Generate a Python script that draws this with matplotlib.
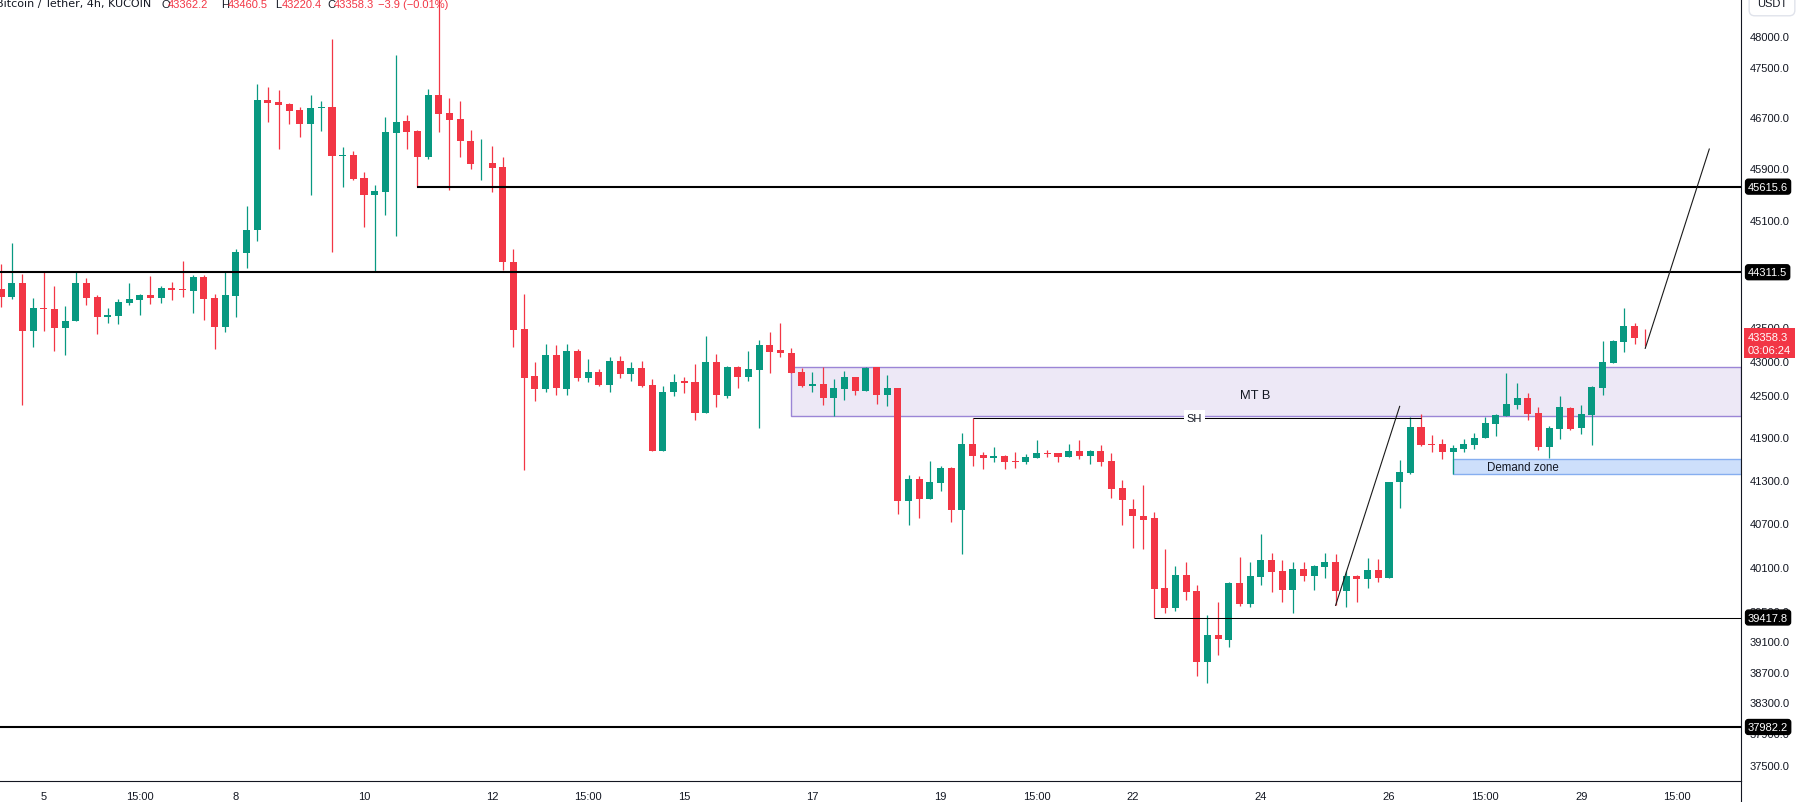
import matplotlib
matplotlib.use("Agg")
import matplotlib.pyplot as plt
from matplotlib.patches import Rectangle
from matplotlib.lines import Line2D
from matplotlib.ticker import FixedLocator, FixedFormatter, NullLocator
import numpy as np

# 4h candles, BTC/USDT (KuCoin)
opens = [44057, 43941, 44146, 43442, 43773, 43758, 43487, 43580, 44146, 43936,
         43640, 43655, 43853, 43896, 43966, 43926, 44071, 44056, 44031, 44236,
         43921, 43501, 43956, 44608, 44951, 46975, 46943, 46911, 46815, 46600,
         46852, 46863, 46095, 46105, 45749, 45490, 45536, 46457, 46641, 46489,
         46079, 47055, 46767, 46673, 46331, 45978, 45988, 45920, 44458, 43466,
         42780, 42597, 43085, 42597, 43144, 42756, 42839, 42655, 42998, 42815,
         42897, 42655, 41711, 42554, 42708, 42694, 42250, 42984, 42496, 42911,
         42770, 42872, 43232, 43159, 43115, 42839, 42640, 42664, 42467, 42597,
         42766, 42568, 42908, 42510, 42606, 41000, 41314, 41038, 41262, 41467,
         40874, 41807, 41650, 41612, 41636, 41565, 41555, 41612, 41679, 41679,
         41626, 41707, 41640, 41707, 41565, 41183, 40896, 40804, 40770, 39815,
         39551, 39992, 39774, 38833, 39181, 39124, 39887, 39605, 39969, 40195,
         40046, 39790, 40073, 39982, 40105, 40168, 39777, 39978, 39941, 40059,
         39955, 41267, 41402, 42047, 41807, 41807, 41697, 41740, 41796, 41896,
         42092, 42207, 42366, 42462, 42245, 41768, 42022, 42318, 42036, 42221,
         42611, 42974, 43281, 43511, 43362.2]
highs = [44430, 44750, 44281, 43923, 44311, 44106, 43803, 44311, 44221, 43966,
         43773, 43908, 44146, 43981, 44251, 44101, 44161, 44476, 44266, 44266,
         43981, 44311, 44662, 45316, 47231, 47183, 47135, 46927, 46863, 47055,
         46959, 47956, 46236, 46168, 45842, 45645, 46705, 47691, 46737, 46504,
         47151, 48970, 47007, 46959, 46504, 46362, 46252, 46079, 44662, 43981,
         42984, 43245, 43235, 43245, 43178, 43027, 42882, 43056, 43071, 42984,
         42998, 42737, 42636, 42810, 42766, 42954, 43364, 43100, 42926, 42926,
         43144, 43305, 43421, 43554, 43188, 42897, 42839, 42911, 42737, 42853,
         42766, 42908, 42908, 42795, 42606, 41370, 41356, 41565, 41495, 41481,
         41963, 42179, 41694, 41764, 41650, 41694, 41665, 41863, 41721, 41679,
         41807, 41863, 41721, 41792, 41679, 41300, 41034, 41230, 40855, 40343,
         40114, 40168, 39855, 39457, 39630, 39896, 40240, 40168, 40550, 40290,
         40195, 40168, 40168, 40127, 40290, 40277, 40046, 39991, 40222, 40209,
         41276, 41579, 42188, 42231, 41934, 41877, 41792, 41877, 41963, 42188,
         42231, 42824, 42678, 42534, 42337, 42060, 42491, 42333, 42362, 42631,
         43290, 43305, 43773, 43554, 43460.5]
lows = [43790, 43911, 42366, 43206, 43442, 43148, 43090, 43580, 43821, 43398,
        43550, 43535, 43821, 43670, 43836, 43851, 43896, 43941, 43700, 43596,
        43178, 43428, 43640, 44374, 44786, 46630, 46204, 46600, 46395, 45490,
        46490, 44622, 45614, 45722, 45001, 44316, 45184, 44866, 46204, 45615.6,
        46048, 46473, 45568, 46079, 45894, 45722, 45536, 44346, 43206, 41432,
        42424, 42554, 42510, 42510, 42712, 42698, 42640, 42554, 42756, 42712,
        42626, 41711, 41711, 42496, 42539, 42150, 42250, 42337, 42467, 42612,
        42712, 42026, 42828, 43061, 42828, 42626, 42554, 42366, 42207, 42438,
        42510, 42568, 42381, 42352, 40832, 40678, 40764, 41038, 41150, 40720,
        40270, 41498, 41456, 41555, 41456, 41470, 41527, 41612, 41626, 41555,
        41626, 41593, 41527, 41494, 41052, 40678, 40361, 40347, 39417.8, 39484,
        39511, 39659, 38648, 38558, 38923, 39031, 39567, 39552, 39860, 39765,
        39630, 39484, 39914, 39790, 39955, 39580, 39552, 39630, 39819, 39900,
        39955, 40913, 41388, 41782, 41697, 41597, 41384, 41697, 41740, 41896,
        41924, 42207, 42308, 42150, 41726, 41612, 41877, 42007, 41953, 41796,
        42510, 42974, 43134, 43250, 43220.4]
closes = [43940, 44146, 43442, 43773, 43758, 43487, 43590, 44146, 43926, 43640,
          43670, 43863, 43908, 43966, 43926, 44071, 44046, 44046, 44236, 43911,
          43501, 43966, 44618, 44951, 46975, 46932, 46900, 46804, 46600, 46847,
          46863, 46095, 46105, 45738, 45490, 45547, 46468, 46625, 46473, 46079,
          47055, 46758, 46662, 46322, 45972, 45988, 45910, 44462, 43456, 42756,
          42597, 43085, 42612, 43144, 42756, 42839, 42655, 42998, 42815, 42897,
          42640, 41711, 42554, 42694, 42683, 42250, 42984, 42510, 42911, 42770,
          42882, 43232, 43134, 43120, 42828, 42640, 42664, 42467, 42606, 42766,
          42568, 42897, 42510, 42606, 41000, 41314, 41038, 41272, 41467, 40874,
          41807, 41640, 41612, 41636, 41555, 41555, 41622, 41679, 41669, 41626,
          41707, 41640, 41707, 41555, 41178, 41024, 40804, 40748, 39805, 39551,
          39992, 39765, 38833, 39181, 39132, 39882, 39594, 39978, 40195, 40036,
          39790, 40073, 39982, 40114, 40168, 39777, 39978, 39941, 40059, 39955,
          41272, 41411, 42047, 41796, 41796, 41697, 41750, 41807, 41891, 42102,
          42217, 42376, 42462, 42236, 41768, 42032, 42333, 42022, 42231, 42621,
          42984, 43290, 43511, 43339, 43358.3]

# time axis labels (candle index -> label)
date_ticks = [4, 13, 22, 34, 46, 55, 64, 76, 88, 97, 106, 118, 130, 139, 148, 157]
date_labels = ["5", "15:00", "8", "10", "12", "15:00", "15", "17", "19", "15:00",
               "22", "24", "26", "15:00", "29", "15:00"]

price_ticks = [48000, 47500, 46700, 45900, 45100, 43500, 43000, 42500, 41900,
               41300, 40700, 40100, 39500, 39100, 38700, 38300, 37900, 37500]

# horizontal levels: price, first candle, line width
level_prices = [45615.6, 44311.5, 39417.8, 37982.2]
level_starts = [39, -1, 108, -1]
level_widths = [1.5, 1.5, 0.75, 1.5]

# zones: (first candle, low, high)
mtb_zone = (74, 42198, 42908)
demand_zone = (136, 41380, 41597)
sh_level = (91, 133, 42179)
trend1_x, trend1_y = [125, 131], [39580, 42342]
trend2_x, trend2_y = [154, 160], [43183, 46201]

last_price = 43358.3
header_ohlc = ["43362.2", "43460.5", "43220.4", "43358.3"]

UP, DOWN, INK = "#089981", "#F23645", "#131722"
FONT = "Liberation Sans"

W, H = 1802, 803
fig = plt.figure(figsize=(W / 100, H / 100), dpi=100)
ax = fig.add_axes([0, 21 / H, 1741 / W, 782 / H])
ax.set_yscale("log")
x_left, x_right = -0.094, 162.97
ax.set_xlim(x_left, x_right)
ax.set_ylim(37293, 48611)

o = np.array(opens); h = np.array(highs); l = np.array(lows); c = np.array(closes)
idx = np.arange(len(o))
cols = [UP if cc >= oo else DOWN for oo, cc in zip(o, c)]
ax.vlines(idx, l, h, colors=cols, linewidth=0.9, zorder=3)
ax.bar(idx, np.maximum(np.abs(c - o), 12), bottom=np.minimum(o, c), width=0.66,
       color=cols, linewidth=0, zorder=4)

# zones
x0, lo, hi = mtb_zone
ax.add_patch(Rectangle((x0, lo), x_right - x0, hi - lo, facecolor=(149/255, 117/255, 205/255, 0.16),
                       edgecolor="#9b85d6", linewidth=1.0, zorder=2))
ax.text(117.5, 42505, "MT B", ha="center", va="center", fontsize=9.3, color=INK, family=FONT, zorder=6)
x0, lo, hi = demand_zone
ax.add_patch(Rectangle((x0, lo), x_right - x0, hi - lo, facecolor="#cddffb",
                       edgecolor="#86aef0", linewidth=1.0, zorder=2))
ax.text(142.5, 41480, "Demand zone", ha="center", va="center", fontsize=8.3, color=INK, family=FONT, zorder=6)

# levels
for p, s, lw in zip(level_prices, level_starts, level_widths):
    ax.hlines(p, max(s, x_left), x_right, color="black", linewidth=lw, zorder=5)
    ax.text(1748 / 1741, p, f"{p:.1f}", transform=ax.get_yaxis_transform(), ha="left", va="center",
            color="white", fontsize=8, family=FONT, zorder=8, clip_on=False,
            bbox=dict(boxstyle="round,pad=0.22,rounding_size=0.25", fc="black", ec="black"))

ax.hlines(sh_level[2], sh_level[0], sh_level[1], color="black", linewidth=0.75, zorder=5)
ax.text(111.8, sh_level[2], "SH", ha="center", va="center", fontsize=8, color=INK, family=FONT, zorder=6,
        bbox=dict(boxstyle="square,pad=0.25", fc="white", ec="none"))

ax.plot(trend1_x, trend1_y, color="#1a1a1a", linewidth=0.8, zorder=6)
ax.plot(trend2_x, trend2_y, color="#1a1a1a", linewidth=0.8, zorder=6)

# price scale
ax.yaxis.tick_right()
ax.yaxis.set_major_locator(FixedLocator(price_ticks))
ax.yaxis.set_major_formatter(FixedFormatter([f"{p:.1f}" for p in price_ticks]))
ax.yaxis.set_minor_locator(NullLocator())
ax.tick_params(axis="y", length=0, pad=6, labelsize=8, labelcolor=INK)
ax.set_xticks(date_ticks)
ax.set_xticklabels(date_labels)
ax.tick_params(axis="x", length=0, pad=7, labelsize=8, labelcolor=INK)
for t in ax.get_xticklabels() + ax.get_yticklabels():
    t.set_family(FONT)

for side in ["top", "left"]:
    ax.spines[side].set_visible(False)
for side in ["right", "bottom"]:
    ax.spines[side].set_color(INK)
    ax.spines[side].set_linewidth(0.8)
fig.add_artist(Line2D([1741 / W] * 2, [0, 21 / H], color=INK, linewidth=0.8))

# live price tag
ax.annotate(f"{last_price:.1f}\n03:06:24", xy=(1.0, last_price), xycoords=("axes fraction", "data"),
            xytext=(5, -5), textcoords="offset points", ha="left", va="center", color="white",
            fontsize=8, family=FONT, linespacing=1.3, zorder=9, annotation_clip=False,
            bbox=dict(boxstyle="square,pad=0.35", fc=DOWN, ec="none"))

fig.text(1772 / W, 1 - 4 / H, "USDT", ha="center", va="center", fontsize=8, color=INK, family=FONT,
         bbox=dict(boxstyle="round,pad=0.7,rounding_size=0.5", fc="white", ec="#e0e3eb"))

# header line
base = 1 - 7.5 / H
fig.text(-4 / W, base, "Bitcoin / Tether, 4h, KUCOIN", va="baseline", ha="left", fontsize=8,
         color=INK, family="DejaVu Sans")
for letter, lx, val in zip("OHLC", [161, 221, 275, 327], header_ohlc):
    fig.text(lx / W, base, letter, va="baseline", ha="left", fontsize=8, color=INK, family=FONT)
    fig.text((lx + 7) / W, base, val, va="baseline", ha="left", fontsize=8, color=DOWN, family=FONT)
fig.text(378 / W, base, "\u22123.9 (\u22120.01%)", va="baseline", ha="left", fontsize=8, color=DOWN, family=FONT)

fig.savefig("out.png", dpi=100, facecolor="white")
